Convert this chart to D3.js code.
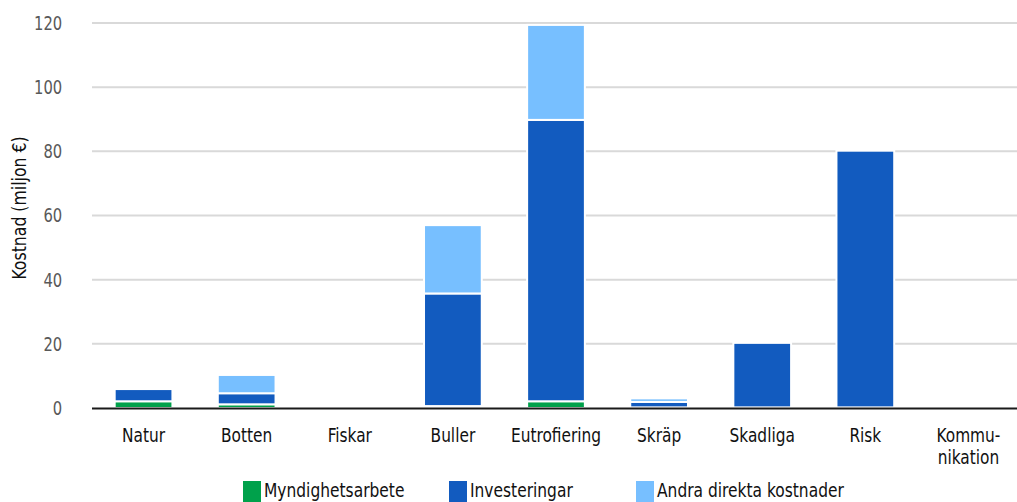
<!DOCTYPE html>
<html>
<head>
<meta charset="utf-8">
<script src="https://cdn.jsdelivr.net/npm/d3@7"></script>
<style>
  body { margin: 0; background: #fff; }
  svg text { font-family: "Liberation Sans Narrow", "DejaVu Sans Condensed", sans-serif; }
</style>
</head>
<body>
<svg width="1017" height="502"></svg>
<script>
// kategorier och värden (miljon €)
var categories = ["Natur", "Botten", "Fiskar", "Buller", "Eutrofiering", "Skräp", "Skadliga", "Risk", "Kommu-\nnikation"];
var myndighetsarbete = [2.1, 1.15, 0, 0.6, 2.1, 0.2, 0.2, 0.2, 0];
var investeringar    = [3.8, 3.45, 0, 35.1, 87.7, 1.7, 20.1, 80.0, 0];
var andraKostnader   = [0, 5.7, 0, 21.3, 29.6, 1.1, 0, 0, 0];
var seriesNames = ["Myndighetsarbete", "Investeringar", "Andra direkta kostnader"];
var seriesColors = ["#00a14b", "#125bbf", "#77bfff"];
var yTicks = [0, 20, 40, 60, 80, 100, 120];

var svg = d3.select("svg"),
    width = +svg.attr("width"),
    height = +svg.attr("height");

var keys = ["m", "i", "a"];
var table = categories.map(function(c, k) {
  return {cat: c, m: myndighetsarbete[k], i: investeringar[k], a: andraKostnader[k]};
});
var stacked = d3.stack().keys(keys)(table);

var x = d3.scaleBand()
    .domain(categories)
    .range([92, 1020])
    .paddingInner(0.44)
    .paddingOuter(0.22);

var y = d3.scaleLinear()
    .domain([0, 120])
    .range([408, 23]);

// rutnät
svg.append("g")
  .selectAll("line")
  .data(yTicks.filter(function(d) { return d > 0; }))
  .enter().append("line")
    .attr("x1", 92).attr("x2", width)
    .attr("y1", function(d) { return y(d); })
    .attr("y2", function(d) { return y(d); })
    .attr("stroke", "#d9d9d9")
    .attr("stroke-width", 2);

// y-axel etiketter (smal text: skalas ihop horisontellt)
var yAxis = svg.append("g")
    .attr("transform", "translate(72,0)")
    .call(d3.axisLeft(y).tickValues(yTicks).tickSize(0).tickPadding(12));
yAxis.select(".domain").remove();
yAxis.selectAll("text")
    .attr("font-size", 20)
    .attr("fill", "#595959")
    .attr("font-family", null)
    .attr("transform", "scale(0.82,1)");

svg.append("text")
    .attr("transform", "translate(26,208) rotate(-90) scale(0.92,1)")
    .attr("text-anchor", "middle")
    .attr("font-size", 19)
    .attr("fill", "#111")
    .text("Kostnad (miljon €)");

// staplar
svg.append("g")
  .selectAll("g")
  .data(stacked)
  .enter().append("g")
    .attr("fill", function(d, k) { return seriesColors[k]; })
  .selectAll("rect")
  .data(function(d) { return d; })
  .enter().append("rect")
    .attr("x", function(d) { return x(d.data.cat); })
    .attr("width", x.bandwidth())
    .attr("y", function(d) { return y(d[1]); })
    .attr("height", function(d) { return y(d[0]) - y(d[1]); })
    .attr("stroke", "#fff")
    .attr("stroke-width", function(d) { return d[1] - d[0] > 0 ? 2 : 0; });

// x-axel
svg.append("line")
    .attr("x1", 92).attr("x2", width)
    .attr("y1", 408.5).attr("y2", 408.5)
    .attr("stroke", "#1a1a1a")
    .attr("stroke-width", 2);

var xl = svg.append("g")
  .selectAll("text")
  .data(categories)
  .enter().append("text")
    .attr("transform", function(d) {
      return "translate(" + (x(d) + x.bandwidth() / 2) + ",442) scale(0.9,1)";
    })
    .attr("text-anchor", "middle")
    .attr("font-size", 19)
    .attr("fill", "#111");
xl.selectAll("tspan")
  .data(function(d) { return d.split("\n"); })
  .enter().append("tspan")
    .attr("x", 0)
    .attr("dy", function(d, k) { return k ? 22 : 0; })
    .text(function(d) { return d; });

// förklaring
var legendX = [243, 449, 636];
var lg = svg.append("g")
  .selectAll("g")
  .data(seriesNames)
  .enter().append("g")
    .attr("transform", function(d, k) { return "translate(" + legendX[k] + ",481)"; });
lg.append("rect")
    .attr("width", 18).attr("height", 21)
    .attr("fill", function(d, k) { return seriesColors[k]; });
lg.append("text")
    .attr("transform", "translate(21,16) scale(0.86,1)")
    .attr("font-size", 20)
    .attr("fill", "#111")
    .text(function(d) { return d; });
</script>
</body>
</html>
